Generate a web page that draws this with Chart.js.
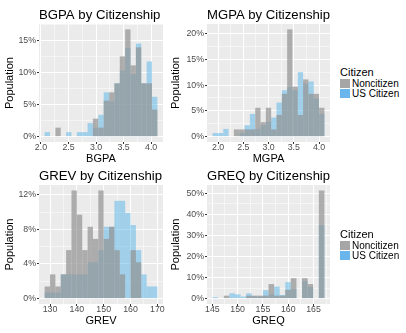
<!DOCTYPE html>
<html>
<head>
<meta charset="utf-8">
<script src="https://cdn.jsdelivr.net/npm/chart.js@4/dist/chart.umd.min.js"></script>
<style>
  html, body { margin: 0; padding: 0; background: #fff; }
  #wrap { position: relative; width: 406px; height: 333px; overflow: hidden; font-family: 'Liberation Sans', Arial, sans-serif; }
  canvas { position: absolute; }
  .legend { position: absolute; left: 340px; color: #000; }
  .legend .ttl { font-size: 11px; line-height: 11px; height: 11px; white-space: nowrap; }
  .legend .row { display: flex; align-items: center; height: 10px; font-size: 10px; white-space: nowrap; }
  .legend .key { width: 10px; height: 9px; margin-right: 2px; flex: none; }
</style>
</head>
<body>
<div id="wrap">
  <canvas id="bgpa" width="166" height="166" style="left:0;top:0;width:166px;height:166px"></canvas>
  <canvas id="mgpa" width="166" height="166" style="left:166px;top:0;width:166px;height:166px"></canvas>
  <canvas id="grev" width="166" height="167" style="left:0;top:161px;width:166px;height:167px"></canvas>
  <canvas id="greq" width="166" height="167" style="left:166px;top:161px;width:166px;height:167px"></canvas>
  <div class="legend" id="legend1" style="top:67px"></div>
  <div class="legend" id="legend2" style="top:229px"></div>
</div>
<script>
// share of each group per bin, in percent
const groups = ['Noncitizen', 'US Citizen'];

const bgpaBins = [2.1150, 2.2125, 2.3100, 2.4075, 2.5050, 2.6025, 2.7000, 2.7975, 2.8950, 2.9925, 3.0900,
                  3.1875, 3.2850, 3.3825, 3.4800, 3.5775, 3.6750, 3.7725, 3.8700, 3.9675, 4.0650];
const bgpaNoncitizen = [0, 0, 1.4, 0, 0, 0, 0, 0, 0, 2.8, 1.4, 5.6, 6.9, 8.3, 12.5, 16.7, 11.1, 13.9, 8.3, 8.3, 4.2];
const bgpaCitizen    = [0.7, 0, 0, 0, 0.7, 0, 0.7, 0.7, 2.1, 1.4, 3.4, 6.9, 5.5, 8.3, 10.3, 13.8, 9.7, 14.5, 8.3, 11.7, 6.2];
const bgpaXTicks = [2.0, 2.5, 3.0, 3.5, 4.0];
const bgpaYTicks = [0, 5, 10, 15];

const mgpaBins = [1.9430, 2.0485, 2.1540, 2.2595, 2.3650, 2.4705, 2.5760, 2.6815, 2.7870, 2.8925, 2.9980,
                  3.1035, 3.2090, 3.3145, 3.4200, 3.5255, 3.6310, 3.7365, 3.8420, 3.9475, 4.0530];
const mgpaNoncitizen = [0, 0, 0, 0, 1.4, 1.4, 1.4, 1.4, 5.6, 2.8, 5.6, 1.4, 4.2, 8.3, 20.8, 9.7, 4.2, 11.1, 8.3, 8.3, 5.6];
const mgpaCitizen    = [0.7, 0.7, 1.5, 0, 0, 0.7, 2.2, 4.4, 1.5, 2.2, 2.9, 3.7, 6.6, 9.0, 9.6, 9.0, 12.5, 10.3, 10.7, 7.4, 4.4];
const mgpaXTicks = [2.0, 2.5, 3.0, 3.5, 4.0];
const mgpaYTicks = [0, 5, 10, 15, 20];

const grevBins = [129, 131, 133, 135, 137, 139, 141, 143, 145, 147, 149, 151, 153, 155, 157, 159, 161, 163, 165, 167, 169];
const grevNoncitizen = [1.4, 2.8, 1.4, 2.8, 5.6, 12.5, 9.7, 5.6, 8.3, 6.9, 12.5, 6.9, 8.3, 5.6, 2.8, 0, 5.6, 4.2, 0, 0, 0];
const grevCitizen    = [0.7, 0.7, 0.7, 2.8, 2.8, 2.8, 2.8, 2.8, 4.2, 4.2, 5.6, 8.3, 8.3, 11.3, 11.3, 9.9, 8.5, 5.6, 2.8, 1.4, 1.4];
const grevXTicks = [130, 140, 150, 160, 170];
const grevYTicks = [0, 4, 8, 12];

const greqBins = [145.600, 146.705, 147.810, 148.915, 150.020, 151.125, 152.230, 153.335, 154.440, 155.545,
                  156.650, 157.755, 158.860, 159.965, 161.070, 162.175, 163.280, 164.385, 165.490, 166.595];
const greqNoncitizen = [0, 0, 1.4, 0, 0, 0, 1.4, 1.4, 1.4, 1.4, 6.9, 1.4, 1.4, 4.2, 9.7, 0, 9.7, 6.9, 0, 51.4];
const greqCitizen    = [0.7, 0, 0, 2.5, 2.0, 1.0, 2.5, 1.0, 1.0, 4.0, 2.0, 5.7, 1.7, 7.8, 4.5, 0, 8.3, 5.5, 0, 34.9];
const greqXTicks = [145, 150, 155, 160, 165];
const greqYTicks = [0, 10, 20, 30, 40, 50];

const barColors = ['rgba(145,145,145,0.7)', 'rgba(86,180,233,0.5)'];
const keyColors = ['#a6a6a6', '#6ab6ec'];

Chart.defaults.font.family = "'Liberation Sans', Arial, sans-serif";

const panelBg = {
  id: 'panelBg',
  beforeDraw(chart) {
    const { ctx, chartArea: a } = chart;
    ctx.save();
    ctx.fillStyle = '#ebebeb';
    ctx.fillRect(a.left, a.top, a.right - a.left, a.bottom - a.top);
    ctx.restore();
  }
};

// major ticks plus the half-way minor grid lines that fall inside the panel
function withMinor(majors, lo, hi) {
  const step = majors[1] - majors[0];
  const out = majors.map(v => ({ value: v }));
  for (let v = majors[0] - step / 2; v <= hi; v += step) {
    if (v >= lo) out.push({ value: v, minor: true });
  }
  return out.sort((a, b) => a.value - b.value);
}

const gridOpts = {
  color: '#ffffff',
  lineWidth: c => (c.tick && c.tick.minor ? 0.5 : 1),
  tickColor: c => (c.tick && c.tick.minor ? 'rgba(0,0,0,0)' : '#333333'),
  tickLength: 2,
  tickWidth: 1,
  offset: false
};

function histogram(id, title, xTitle, bins, nonVals, citVals, xTicks, yTicks, fmtX, yAxisW, padRight) {
  const w = bins[1] - bins[0];
  const lo = bins[0] - w / 2, hi = bins[bins.length - 1] + w / 2;
  const xMin = lo - (hi - lo) * 0.05, xMax = hi + (hi - lo) * 0.05;
  const top = Math.max(...nonVals, ...citVals);
  const yMin = -top * 0.05, yMax = top * 1.05;

  return new Chart(document.getElementById(id), {
    type: 'bar',
    data: {
      datasets: [nonVals, citVals].map((vals, k) => ({
        label: groups[k],
        data: bins.map((b, i) => ({ x: b, y: vals[i] })),
        backgroundColor: barColors[k],
        borderWidth: 0,
        grouped: false,
        barPercentage: 1,
        categoryPercentage: 1,
        inflateAmount: 0
      }))
    },
    options: {
      responsive: false,
      animation: false,
      events: [],
      layout: { padding: { left: 0, right: padRight, top: 0, bottom: 0 } },
      plugins: {
        legend: { display: false },
        tooltip: { enabled: false },
        title: {
          display: true, text: title, align: 'start', fullSize: false, color: '#000',
          font: { size: 13.2, weight: 'normal' }, padding: { top: 7.1, bottom: 1.1 }
        }
      },
      scales: {
        x: {
          type: 'linear', min: xMin, max: xMax, offset: false,
          afterBuildTicks: s => { s.ticks = withMinor(xTicks, xMin, xMax); },
          afterFit: s => { s.height = 24; },
          ticks: {
            autoSkip: false, maxRotation: 0, color: '#4d4d4d', padding: -1,
            font: { size: 8.8, lineHeight: 1 },
            callback: v => (xTicks.includes(v) ? fmtX(v) : '')
          },
          grid: gridOpts,
          border: { display: false },
          title: { display: true, text: xTitle, color: '#000', font: { size: 11 }, padding: { top: 0, bottom: 0.7 } }
        },
        y: {
          type: 'linear', min: yMin, max: yMax,
          afterBuildTicks: s => { s.ticks = withMinor(yTicks, yMin, yMax); },
          afterFit: s => { s.width = yAxisW; },
          ticks: {
            color: '#4d4d4d', padding: 1,
            font: { size: 8.8, lineHeight: 1 },
            callback: v => (yTicks.includes(v) ? v + '%' : '')
          },
          grid: gridOpts,
          border: { display: false },
          title: { display: true, text: 'Population', color: '#000', font: { size: 11 }, padding: { top: 3.4, bottom: 0 } }
        }
      }
    },
    plugins: [panelBg]
  });
}

const gpaFmt = v => v.toFixed(1);
const greFmt = v => String(v);

histogram('bgpa', 'BGPA by Citizenship', 'BGPA', bgpaBins, bgpaNoncitizen, bgpaCitizen, bgpaXTicks, bgpaYTicks, gpaFmt, 39, 3);
histogram('mgpa', 'MGPA by Citizenship', 'MGPA', mgpaBins, mgpaNoncitizen, mgpaCitizen, mgpaXTicks, mgpaYTicks, gpaFmt, 41, 2);
histogram('grev', 'GREV by Citizenship', 'GREV', grevBins, grevNoncitizen, grevCitizen, grevXTicks, grevYTicks, greFmt, 39, 3);
histogram('greq', 'GREQ by Citizenship', 'GREQ', greqBins, greqNoncitizen, greqCitizen, greqXTicks, greqYTicks, greFmt, 41, 2);

function buildLegend(el) {
  let html = '<div class="ttl">Citizen</div>';
  groups.forEach((g, k) => {
    html += '<div class="row"><span class="key" style="background:' + keyColors[k] + '"></span>' + g + '</div>';
  });
  el.innerHTML = html;
}
buildLegend(document.getElementById('legend1'));
buildLegend(document.getElementById('legend2'));
</script>
</body>
</html>
